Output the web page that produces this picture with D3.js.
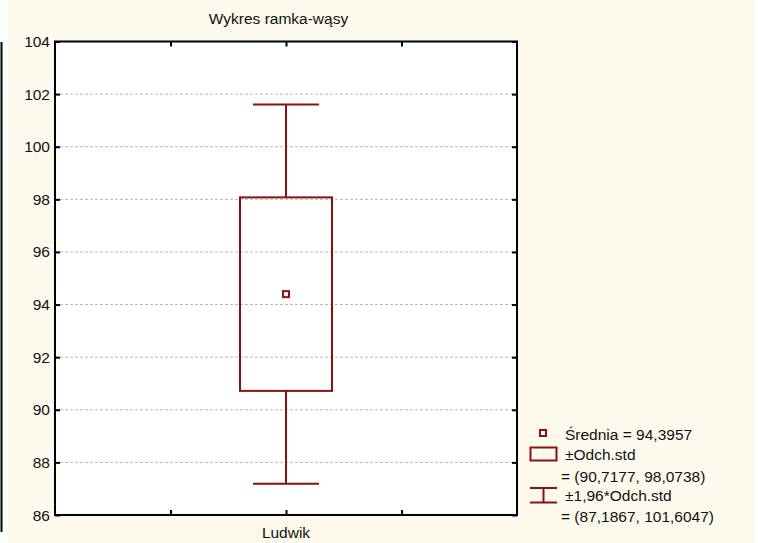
<!DOCTYPE html>
<html>
<head>
<meta charset="utf-8">
<script src="https://cdn.jsdelivr.net/npm/d3@7"></script>
<style>
  body { margin: 0; background: #fff; }
  svg { display: block; font-family: "Liberation Sans", Arial, sans-serif; }
</style>
</head>
<body>
<svg id="chart" width="758" height="543"></svg>
<script>
// data
var categories = ["Ludwik"];
var means = [94.3957];
var sdLow = [90.7177];
var sdHigh = [98.0738];
var ciLow = [87.1867];
var ciHigh = [101.6047];
var yTicks = [86, 88, 90, 92, 94, 96, 98, 100, 102, 104];
var legendLines = ["Średnia = 94,3957", "±Odch.std", "= (90,7177, 98,0738)", "±1,96*Odch.std", "= (87,1867, 101,6047)"];

var color = "#8b1010";
var fontSize = 15.5;
var margin = { left: 55, right: 517, top: 41.5, bottom: 515 };

var svg = d3.select("#chart");

svg.append("rect")
    .attr("x", 9).attr("y", 0)
    .attr("width", 745).attr("height", 543)
    .attr("fill", "#fef9ed");

svg.append("line")
    .attr("x1", 1.5).attr("x2", 1.5)
    .attr("y1", 42).attr("y2", 532)
    .attr("stroke", "#000").attr("stroke-width", 2);

svg.append("rect")
    .attr("x", margin.left).attr("y", margin.top)
    .attr("width", margin.right - margin.left)
    .attr("height", margin.bottom - margin.top)
    .attr("fill", "#fff");

var y = d3.scaleLinear().domain([86, 104]).range([margin.bottom, margin.top]);
// 4 equal slots, category in the middle, ticks at 1/4, 2/4, 3/4
var x = d3.scaleLinear().domain([0, 4]).range([margin.left, margin.right]);
var xTicks = [1, 2, 3];

// gridlines
svg.append("g")
    .selectAll("line")
    .data(yTicks.filter(d => d > 86 && d < 104))
    .enter()
    .append("line")
    .attr("x1", margin.left).attr("x2", margin.right)
    .attr("y1", d => y(d)).attr("y2", d => y(d))
    .attr("stroke", "#b8b8b8")
    .attr("stroke-width", 1)
    .attr("stroke-dasharray", "3,2");

// axes with inward ticks
svg.append("g")
    .attr("transform", "translate(" + margin.left + ",0)")
    .call(d3.axisRight(y).tickValues(yTicks).tickSize(5).tickFormat(""))
    .call(g => g.select(".domain").remove());

svg.append("g")
    .attr("transform", "translate(" + margin.right + ",0)")
    .call(d3.axisLeft(y).tickValues(yTicks).tickSize(5).tickFormat(""))
    .call(g => g.select(".domain").remove());

svg.append("g")
    .attr("transform", "translate(0," + margin.bottom + ")")
    .call(d3.axisTop(x).tickValues(xTicks).tickSize(5).tickFormat(""))
    .call(g => g.select(".domain").remove());

svg.append("g")
    .attr("transform", "translate(0," + margin.top + ")")
    .call(d3.axisBottom(x).tickValues(xTicks).tickSize(5).tickFormat(""))
    .call(g => g.select(".domain").remove());

svg.selectAll(".tick line").attr("stroke", "#000").attr("stroke-width", 2);

// y labels
svg.append("g")
    .selectAll("text")
    .data(yTicks)
    .enter()
    .append("text")
    .attr("x", margin.left - 5)
    .attr("y", d => y(d) + 5.5)
    .attr("text-anchor", "end")
    .attr("font-size", fontSize)
    .attr("fill", "#111")
    .text(d => d);

// x labels
svg.append("g")
    .selectAll("text")
    .data(categories)
    .enter()
    .append("text")
    .attr("x", (d, i) => x(2 + i))
    .attr("y", 538)
    .attr("text-anchor", "middle")
    .attr("font-size", fontSize)
    .attr("fill", "#111")
    .text(d => d);

// title
svg.append("text")
    .attr("x", 278.5).attr("y", 24)
    .attr("text-anchor", "middle")
    .attr("font-size", fontSize)
    .attr("fill", "#111")
    .text("Wykres ramka-wąsy");

// box plot
var boxHalf = 46, capHalf = 33;
var boxes = svg.append("g")
    .selectAll("g")
    .data(categories)
    .enter()
    .append("g");

boxes.append("line")
    .attr("x1", (d, i) => x(2 + i)).attr("x2", (d, i) => x(2 + i))
    .attr("y1", (d, i) => y(ciHigh[i])).attr("y2", (d, i) => y(sdHigh[i]))
    .attr("stroke", color).attr("stroke-width", 2);

boxes.append("line")
    .attr("x1", (d, i) => x(2 + i)).attr("x2", (d, i) => x(2 + i))
    .attr("y1", (d, i) => y(sdLow[i])).attr("y2", (d, i) => y(ciLow[i]))
    .attr("stroke", color).attr("stroke-width", 2);

boxes.append("line")
    .attr("x1", (d, i) => x(2 + i) - capHalf).attr("x2", (d, i) => x(2 + i) + capHalf)
    .attr("y1", (d, i) => y(ciHigh[i])).attr("y2", (d, i) => y(ciHigh[i]))
    .attr("stroke", color).attr("stroke-width", 2);

boxes.append("line")
    .attr("x1", (d, i) => x(2 + i) - capHalf).attr("x2", (d, i) => x(2 + i) + capHalf)
    .attr("y1", (d, i) => y(ciLow[i])).attr("y2", (d, i) => y(ciLow[i]))
    .attr("stroke", color).attr("stroke-width", 2);

boxes.append("rect")
    .attr("x", (d, i) => x(2 + i) - boxHalf)
    .attr("y", (d, i) => y(sdHigh[i]))
    .attr("width", boxHalf * 2)
    .attr("height", (d, i) => y(sdLow[i]) - y(sdHigh[i]))
    .attr("fill", "none")
    .attr("stroke", color).attr("stroke-width", 2);

boxes.append("rect")
    .attr("x", (d, i) => x(2 + i) - 3)
    .attr("y", (d, i) => y(means[i]) - 3)
    .attr("width", 6).attr("height", 6)
    .attr("fill", "#fff")
    .attr("stroke", color).attr("stroke-width", 2);

// plot frame
svg.append("rect")
    .attr("x", margin.left).attr("y", margin.top)
    .attr("width", margin.right - margin.left)
    .attr("height", margin.bottom - margin.top)
    .attr("fill", "none")
    .attr("stroke", "#000").attr("stroke-width", 2);

// legend
var legend = svg.append("g");
legend.append("rect")
    .attr("x", 540).attr("y", 430).attr("width", 6).attr("height", 6)
    .attr("fill", "#fff").attr("stroke", color).attr("stroke-width", 2);
legend.append("rect")
    .attr("x", 530.5).attr("y", 447.5).attr("width", 26).attr("height", 13)
    .attr("fill", "none").attr("stroke", color).attr("stroke-width", 2);
legend.append("line")
    .attr("x1", 530).attr("x2", 557).attr("y1", 488).attr("y2", 488)
    .attr("stroke", color).attr("stroke-width", 2);
legend.append("line")
    .attr("x1", 530).attr("x2", 557).attr("y1", 502.5).attr("y2", 502.5)
    .attr("stroke", color).attr("stroke-width", 2);
legend.append("line")
    .attr("x1", 543.5).attr("x2", 543.5).attr("y1", 488).attr("y2", 502.5)
    .attr("stroke", color).attr("stroke-width", 2);

var legendX = [565, 565, 561, 565, 561];
var legendY = [440, 460, 482, 501, 522];
legend.selectAll("text")
    .data(legendLines)
    .enter()
    .append("text")
    .attr("x", (d, i) => legendX[i])
    .attr("y", (d, i) => legendY[i])
    .attr("font-size", fontSize)
    .attr("fill", "#111")
    .text(d => d);
</script>
</body>
</html>
